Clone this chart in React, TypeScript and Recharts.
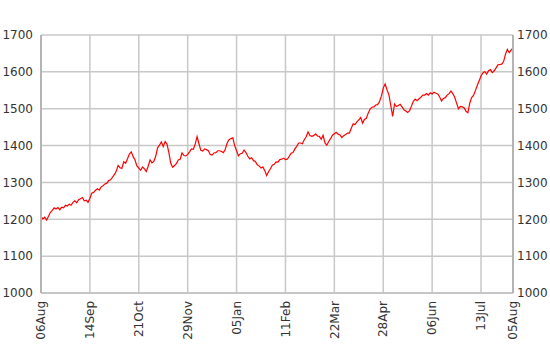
import { LineChart, Line, XAxis, YAxis, CartesianGrid } from "recharts";

// daily closes, one per trading day
const closes = [
    1207, 1201, 1206, 1198, 1208, 1219, 1224, 1231, 1228, 1232,
    1226, 1233, 1231, 1238, 1236, 1241, 1238, 1246, 1250, 1245,
    1253, 1256, 1259, 1250, 1252, 1246, 1257, 1271, 1273, 1279,
    1283, 1279, 1288, 1291, 1296, 1298, 1305, 1307, 1314, 1321,
    1330, 1346, 1340, 1338, 1356, 1352, 1364, 1377, 1383, 1370,
    1361, 1345, 1339, 1333, 1342, 1337, 1330, 1344, 1361, 1353,
    1357, 1371, 1394, 1401, 1410, 1397, 1411, 1404, 1381, 1352,
    1341, 1346, 1351, 1361, 1363, 1380, 1373, 1372, 1376, 1383,
    1391, 1390, 1404, 1424, 1405, 1387, 1385, 1391, 1389, 1386,
    1376, 1374, 1380, 1381, 1386, 1386, 1384, 1381, 1390, 1407,
    1416, 1419, 1421, 1399, 1386, 1372, 1378, 1379, 1388, 1381,
    1371, 1364, 1367, 1359, 1357, 1348, 1345, 1339, 1342, 1332,
    1319, 1329, 1337, 1347, 1349, 1356, 1355, 1362, 1363, 1366,
    1362, 1363, 1371, 1379, 1381, 1391, 1398, 1407, 1407, 1405,
    1416, 1424, 1437, 1427, 1425, 1427, 1432, 1426, 1425, 1417,
    1428, 1407, 1401, 1411, 1419, 1428, 1432, 1436, 1431, 1429,
    1422, 1427, 1430, 1434, 1434, 1447, 1459, 1457, 1464, 1470,
    1476, 1461, 1471, 1474, 1488, 1499, 1504, 1505, 1510, 1511,
    1519, 1534, 1556, 1567, 1551, 1538, 1509, 1479, 1513, 1506,
    1509, 1512, 1505, 1497, 1494, 1490, 1495, 1507, 1520, 1526,
    1522, 1527, 1531, 1537, 1537, 1541, 1537, 1543, 1540, 1545,
    1542, 1540, 1532, 1521, 1528, 1530, 1537, 1541, 1548, 1541,
    1531, 1515, 1500, 1506, 1505, 1503, 1493, 1489, 1515, 1530,
    1536, 1549, 1563, 1576, 1589, 1597, 1601, 1594, 1603, 1606,
    1598, 1603, 1611, 1619, 1620, 1621, 1628, 1648, 1661, 1652,
    1659, 1665,
];

const tickIndex = [0, 26, 52, 78, 104, 130, 156, 182, 208, 234, 251];
const tickLabels = ["06Aug", "14Sep", "21Oct", "29Nov", "05Jan", "11Feb", "22Mar", "28Apr", "06Jun", "13Jul", "05Aug"];
const yTicks = [1000, 1100, 1200, 1300, 1400, 1500, 1600, 1700];

const data = closes.map((close, i) => ({ i, close }));

const FONT = "'DejaVu Sans', Verdana, sans-serif";

function DateTick(props: any) {
    const { x, y, payload } = props;
    const idx = tickIndex.indexOf(payload.value);
    return (
        <text
            transform={`translate(${x},${y}) rotate(-90)`}
            textAnchor="end"
            dy="0.35em"
            fill="#333"
            fontSize={12}
            fontFamily={FONT}
        >
            {tickLabels[idx]}
        </text>
    );
}

export default function App() {
    return (
        <div style={{ position: "absolute", left: 0, top: 0, width: 550, height: 364, background: "#fff" }}>
            <LineChart width={550} height={364} data={data} margin={{ top: 35, right: 0, left: 0, bottom: 0 }}>
                <CartesianGrid yAxisId="left" stroke="#c8c8c8" strokeWidth={1.5} />
                <XAxis
                    dataKey="i"
                    type="number"
                    domain={[0, 251]}
                    ticks={tickIndex}
                    interval={0}
                    height={71}
                    tick={<DateTick />}
                    tickLine={false}
                    axisLine={{ stroke: "#c0c0c0", strokeWidth: 1.5 }}
                />
                <YAxis
                    yAxisId="left"
                    domain={[1000, 1700]}
                    ticks={yTicks}
                    width={41}
                    tickLine={false}
                    axisLine={{ stroke: "#b4b4b4", strokeWidth: 2 }}
                    tick={{ fill: "#333", fontSize: 12, fontFamily: FONT }}
                />
                <YAxis
                    yAxisId="right"
                    orientation="right"
                    domain={[1000, 1700]}
                    ticks={yTicks}
                    width={37}
                    tickLine={false}
                    tickSize={2}
                    axisLine={{ stroke: "#b4b4b4", strokeWidth: 2 }}
                    tick={{ fill: "#333", fontSize: 12, fontFamily: FONT }}
                />
                <Line
                    yAxisId="right"
                    dataKey="close"
                    stroke="transparent"
                    dot={false}
                    activeDot={false}
                    isAnimationActive={false}
                />
                <Line
                    yAxisId="left"
                    dataKey="close"
                    stroke="#ff0000"
                    strokeWidth={1.2}
                    dot={false}
                    isAnimationActive={false}
                />
            </LineChart>
        </div>
    );
}
